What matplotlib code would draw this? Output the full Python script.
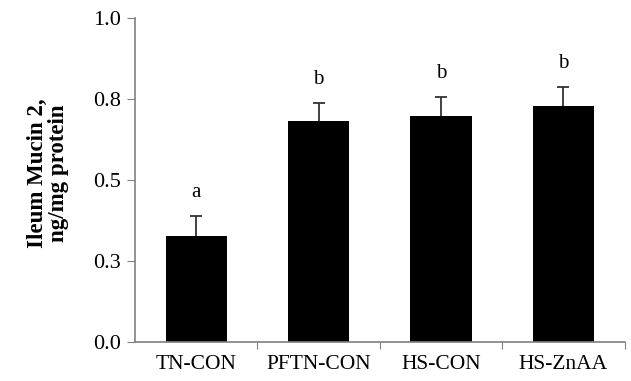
import matplotlib
matplotlib.use('Agg')
from matplotlib import pyplot as plt

groups = ['TN-CON', 'PFTN-CON', 'HS-CON', 'HS-ZnAA']
means = [0.328, 0.682, 0.699, 0.729]
sems = [0.061, 0.057, 0.057, 0.057]
letters = ['a', 'b', 'b', 'b']
yticks = [0.0, 0.25, 0.5, 0.75, 1.0]
ytick_labels = ['0.0', '0.3', '0.5', '0.8', '1.0']

plt.rcParams['font.family'] = ['Liberation Serif', 'DejaVu Serif']

fig = plt.figure(figsize=(6.31, 3.81), dpi=100)
ax = fig.add_axes([0.214, 0.102, 0.776, 0.851])

x = list(range(len(groups)))
# error bars drawn under the bars, so only the upper half shows
ax.errorbar(x, means, yerr=sems, fmt='none', ecolor='#333333',
            elinewidth=1.3, capsize=4.5, capthick=1.3, zorder=1)
ax.bar(x, means, width=0.5, color='black', zorder=2)
for i in x:
    ax.text(i, means[i] + sems[i] + 0.072, letters[i], ha='center', va='center', fontsize=15)

ax.set_xlim(-0.5, 3.5)
ax.set_ylim(0, 1.0)
ax.set_yticks(yticks)
ax.set_yticklabels(ytick_labels, fontsize=16)
ax.set_xticks([i + 0.5 for i in x])
ax.set_xticklabels([])
ax.set_xticks(x, minor=True)
ax.set_xticklabels(groups, minor=True, fontsize=15.5)
ax.tick_params(axis='x', which='minor', length=0, pad=9)
ax.tick_params(axis='x', which='major', direction='out', length=5, color='#808080')
ax.tick_params(axis='y', direction='out', length=6, color='#808080', pad=4)

for s in ['top', 'right']:
    ax.spines[s].set_visible(False)
for s in ['left', 'bottom']:
    ax.spines[s].set_color('#808080')
    ax.spines[s].set_linewidth(1.2)

ax.set_ylabel('Ileum Mucin 2,\nng/mg protein', fontsize=16.5, fontweight='bold',
              linespacing=1.0)
ax.yaxis.set_label_coords(-0.135, 0.52)

fig.savefig('out.png', dpi=100)
